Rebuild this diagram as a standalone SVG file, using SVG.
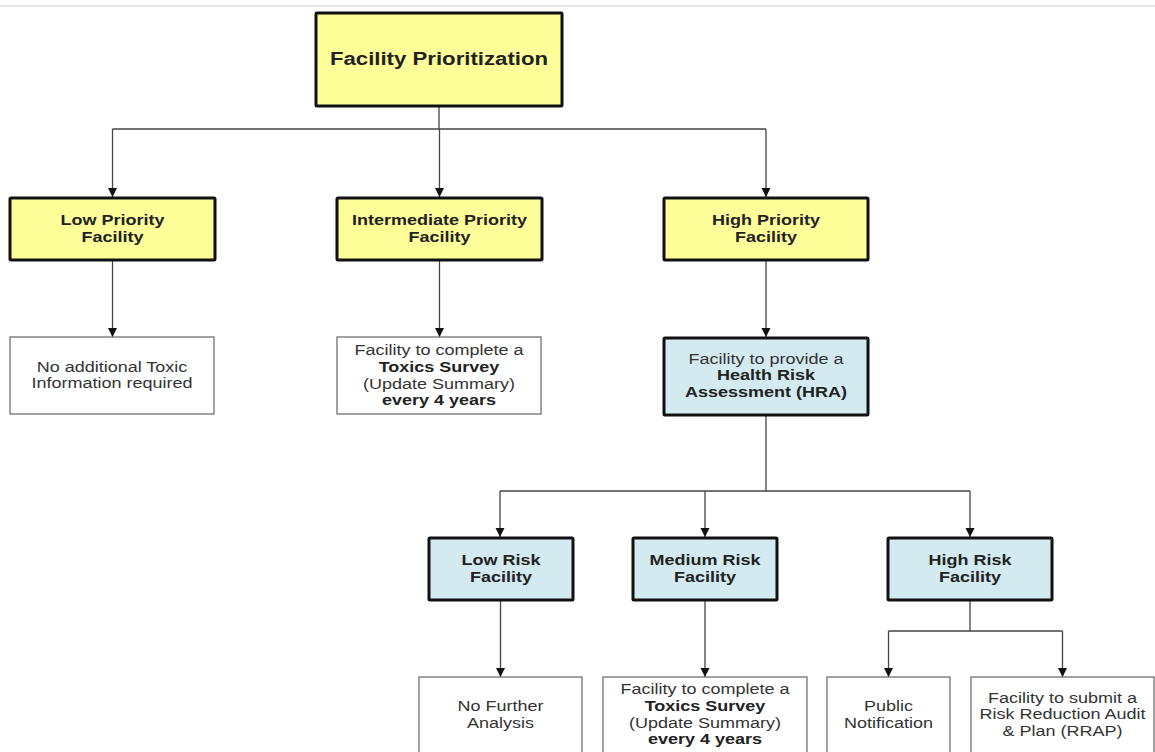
<svg xmlns="http://www.w3.org/2000/svg" width="1155" height="752" viewBox="0 0 1155 752">
<style>
  .thick { stroke: #111; stroke-width: 3; }
  .yellow { fill: #ffff99; }
  .blue { fill: #d3eaf0; }
  .thin { fill: #ffffff; stroke: #666; stroke-width: 1.2; }
  .conn { fill: none; stroke: #444; stroke-width: 1.3; }
  .arrow { fill: none; stroke: #444; stroke-width: 1.3; marker-end: url(#ah); }
  text { font-family: "Liberation Sans", Arial, sans-serif; text-anchor: middle; }
  .b { font-weight: bold; font-size: 15px; fill: #222; }
  .r { font-size: 15px; fill: #333; }
  .title { font-weight: bold; font-size: 18.5px; fill: #222; }
</style>
<defs>
  <marker id="ah" viewBox="0 0 10 10" refX="10" refY="5" markerUnits="userSpaceOnUse" markerWidth="9" markerHeight="10" orient="auto">
    <path d="M0,0 L10,5 L0,10 z" fill="#111"/>
  </marker>
</defs>
<rect width="1155" height="752" fill="#ffffff"/>
<line x1="0" y1="6" x2="1155" y2="6" stroke="#e6e6e6" stroke-width="2"/>

<g id="connectors">
  <path class="conn" d="M439 106 V129 M112.5 129 H766"/>
  <path class="arrow" d="M112.5 129 V197"/>
  <path class="arrow" d="M439.5 129 V197"/>
  <path class="arrow" d="M766 129 V197"/>
  <path class="arrow" d="M112.5 261 V337"/>
  <path class="arrow" d="M439.5 261 V337"/>
  <path class="arrow" d="M766 261 V337"/>
  <path class="conn" d="M766 416 V491 M500 491 H970"/>
  <path class="arrow" d="M500 491 V537"/>
  <path class="arrow" d="M705 491 V537"/>
  <path class="arrow" d="M970 491 V537"/>
  <path class="arrow" d="M500.5 601 V677"/>
  <path class="arrow" d="M705 601 V677"/>
  <path class="conn" d="M970 601 V631 M888.5 631 H1062.5"/>
  <path class="arrow" d="M888.5 631 V677"/>
  <path class="arrow" d="M1062.5 631 V677"/>
</g>

<g id="facility-prioritization">
  <rect class="thick yellow" x="316" y="13" width="246" height="93" rx="1"/>
  <g transform="translate(439 0) scale(1.2 1)"><text class="title" x="0" y="65">Facility Prioritization</text></g>
</g>

<g id="low-priority">
  <rect class="thick yellow" x="10" y="198" width="205" height="62" rx="1"/>
  <g transform="translate(112.5 0) scale(1.2 1)">
    <text class="b" x="0" y="225.5">Low Priority</text>
    <text class="b" x="0" y="242">Facility</text>
  </g>
</g>

<g id="intermediate-priority">
  <rect class="thick yellow" x="337" y="198" width="205" height="62" rx="1"/>
  <g transform="translate(439.5 0) scale(1.2 1)">
    <text class="b" x="0" y="225.5">Intermediate Priority</text>
    <text class="b" x="0" y="242">Facility</text>
  </g>
</g>

<g id="high-priority">
  <rect class="thick yellow" x="664" y="198" width="204" height="62" rx="1"/>
  <g transform="translate(766 0) scale(1.2 1)">
    <text class="b" x="0" y="225.5">High Priority</text>
    <text class="b" x="0" y="242">Facility</text>
  </g>
</g>

<g id="no-additional">
  <rect class="thin" x="10" y="337" width="204" height="77"/>
  <g transform="translate(112 0) scale(1.2 1)">
    <text class="r" x="0" y="372">No additional Toxic</text>
    <text class="r" x="0" y="388">Information required</text>
  </g>
</g>

<g id="toxics-survey-1">
  <rect class="thin" x="337" y="337" width="204" height="77"/>
  <g transform="translate(439 0) scale(1.2 1)">
    <text class="r" x="0" y="355">Facility to complete a</text>
    <text class="b" x="0" y="372">Toxics Survey</text>
    <text class="r" x="0" y="389">(Update Summary)</text>
    <text class="b" x="0" y="405.5">every 4 years</text>
  </g>
</g>

<g id="hra">
  <rect class="thick blue" x="664" y="338" width="204" height="77" rx="1"/>
  <g transform="translate(766 0) scale(1.2 1)">
    <text class="r" x="0" y="364">Facility to provide a</text>
    <text class="b" x="0" y="380.5">Health Risk</text>
    <text class="b" x="0" y="397">Assessment (HRA)</text>
  </g>
</g>

<g id="low-risk">
  <rect class="thick blue" x="429" y="538" width="144" height="62" rx="1"/>
  <g transform="translate(501 0) scale(1.2 1)">
    <text class="b" x="0" y="565">Low Risk</text>
    <text class="b" x="0" y="582">Facility</text>
  </g>
</g>

<g id="medium-risk">
  <rect class="thick blue" x="633" y="538" width="144" height="62" rx="1"/>
  <g transform="translate(705 0) scale(1.2 1)">
    <text class="b" x="0" y="565">Medium Risk</text>
    <text class="b" x="0" y="582">Facility</text>
  </g>
</g>

<g id="high-risk">
  <rect class="thick blue" x="888" y="538" width="164" height="62" rx="1"/>
  <g transform="translate(970 0) scale(1.2 1)">
    <text class="b" x="0" y="565">High Risk</text>
    <text class="b" x="0" y="582">Facility</text>
  </g>
</g>

<g id="no-further">
  <rect class="thin" x="419" y="677" width="163" height="85"/>
  <g transform="translate(500.5 0) scale(1.2 1)">
    <text class="r" x="0" y="711">No Further</text>
    <text class="r" x="0" y="728">Analysis</text>
  </g>
</g>

<g id="toxics-survey-2">
  <rect class="thin" x="603" y="677" width="204" height="85"/>
  <g transform="translate(705 0) scale(1.2 1)">
    <text class="r" x="0" y="694">Facility to complete a</text>
    <text class="b" x="0" y="711">Toxics Survey</text>
    <text class="r" x="0" y="728">(Update Summary)</text>
    <text class="b" x="0" y="744">every 4 years</text>
  </g>
</g>

<g id="public-notification">
  <rect class="thin" x="827" y="677" width="123" height="85"/>
  <g transform="translate(888.5 0) scale(1.2 1)">
    <text class="r" x="0" y="711">Public</text>
    <text class="r" x="0" y="728">Notification</text>
  </g>
</g>

<g id="rrap">
  <rect class="thin" x="971" y="677" width="183" height="85"/>
  <g transform="translate(1062.5 0) scale(1.2 1)">
    <text class="r" x="0" y="703">Facility to submit a</text>
    <text class="r" x="0" y="719.5">Risk Reduction Audit</text>
    <text class="r" x="0" y="736">&amp; Plan (RRAP)</text>
  </g>
</g>
</svg>
